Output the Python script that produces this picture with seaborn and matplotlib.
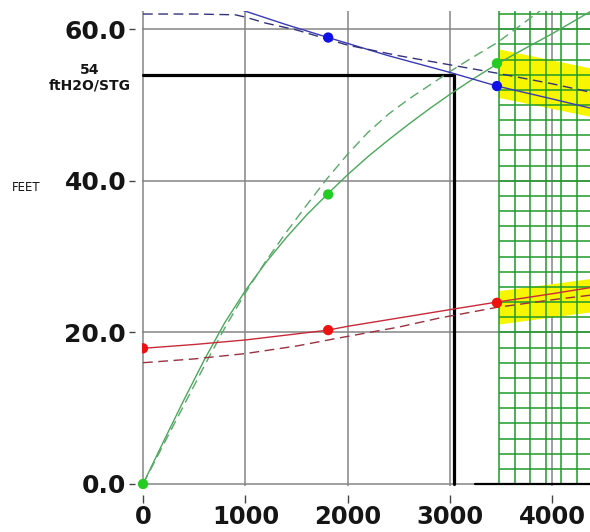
import numpy as np
import matplotlib
matplotlib.use('Agg')
import matplotlib.pyplot as plt
import seaborn as sns

sns.set_theme(style='white')

# axis range
XMAX = 4370
YMAX = 62.4

# operating point marker (head per stage and flow)
STG_HEAD = 54
STG_FLOW = 3040
BASE_X = [3245, 4370]

# green curve (solid and dashed)
GREEN_X = [0, 200, 400, 600, 800, 1000, 1200, 1400, 1600, 1800, 2000, 2200, 2400,
           2600, 2800, 3000, 3200, 3460, 3700, 4000, 4370]
GREEN_Y = [0.0, 5.6, 11.1, 16.4, 21.3, 25.5, 29.2, 32.5, 35.5, 38.2, 40.8, 43.2, 45.4,
           47.5, 49.5, 51.4, 53.2, 55.4, 57.2, 59.4, 62.3]
GREEN_DASH_X = [0, 200, 400, 600, 800, 1000, 1200, 1400, 1600, 1800, 2000, 2200, 2400,
                2600, 2800, 3000, 3200, 3460, 3700, 3900]
GREEN_DASH_Y = [0.0, 5.2, 10.4, 15.6, 20.6, 25.2, 29.4, 33.2, 36.8, 40.3, 43.5, 46.4, 48.8,
                50.8, 52.6, 54.4, 56.1, 58.2, 60.6, 62.6]

# blue curve
BLUE_X = [950, 1400, 1810, 2400, 3000, 3460, 4000, 4370]
BLUE_Y = [62.6, 60.6, 58.9, 56.5, 54.3, 52.5, 50.8, 49.6]
BLUE_DASH_X = [0, 500, 900, 1000, 1200, 1500, 2000, 2500, 3000, 3460, 4000, 4370]
BLUE_DASH_Y = [62.0, 62.0, 61.9, 61.6, 60.8, 59.9, 57.9, 56.5, 55.3, 54.2, 52.8, 51.7]

# red curve
RED_X = [0, 500, 1000, 1500, 1810, 2000, 2500, 3000, 3460, 4000, 4370]
RED_Y = [17.9, 18.4, 19.0, 19.8, 20.3, 20.8, 21.9, 23.0, 24.0, 25.1, 25.9]
RED_DASH_X = [0, 500, 1000, 1500, 1930, 2500, 2900, 3460, 4000, 4370]
RED_DASH_Y = [16.0, 16.5, 17.2, 18.2, 19.3, 20.7, 21.9, 23.3, 24.3, 24.9]

# dots
DOT_X = [0, 1810, 3460]
GREEN_DOT = [0.0, 38.2, 55.5]
RED_DOT = [17.9, 20.3, 23.9]
BLUE_DOT = [58.9, 52.5]

# yellow bands around dashed curves (right region)
BAND_X = [3475, 4370]
BLUE_BAND = [54.2, 51.7]
RED_BAND = [23.3, 24.9]
BLUE_HALF = 3.2
RED_HALF = 2.2

# fine green grid region
FINE_X0 = 3480
FINE_DX = 152
FINE_DY = 2

X_TICKS = [0, 1000, 2000, 3000, 4000]
Y_TICKS = [0, 20, 40, 60]

fig = plt.figure(figsize=(5.9, 5.32), dpi=100)
ax = fig.add_axes([141.5 / 590, (532 - 485.5) / 532, (590 - 141.5) / 590, (485.5 - 11) / 532])
ax.set_xlim(-15, XMAX)
ax.set_ylim(-0.2, YMAX)

for s in ['top', 'right']:
    ax.spines[s].set_visible(False)
ax.spines['bottom'].set_position(('outward', 7))
ax.spines['left'].set_position(('outward', 4.5))
ax.spines['bottom'].set_color('none')
ax.spines['left'].set_color('none')

ax.grid(True, color='#858585', lw=1.1, zorder=0)
ax.set_axisbelow(True)

ax.set_xticks(X_TICKS, labels=[str(v) for v in X_TICKS], fontsize=17.5, fontweight='bold', color='#151515')
ax.set_yticks(Y_TICKS, labels=['%.1f' % v for v in Y_TICKS], fontsize=18, fontweight='bold', color='#151515')
ax.tick_params(axis='x', direction='out', length=5.5, width=1, color='#444444', pad=1.5, bottom=True)
ax.tick_params(axis='y', direction='out', length=4.5, width=1, color='#444444', pad=2, left=True)

# yellow bands
bx = np.array(BAND_X)
ax.fill_between(bx, np.array(BLUE_BAND) - BLUE_HALF, np.array(BLUE_BAND) + BLUE_HALF,
                color='#f7f500', lw=0, zorder=1)
ax.fill_between(bx, np.array(RED_BAND) - RED_HALF, np.array(RED_BAND) + RED_HALF,
                color='#f7f500', lw=0, zorder=1)

# fine green grid
ax.vlines(np.arange(FINE_X0, XMAX + 1, FINE_DX), 0, YMAX + 1, color='#1f9a2a', lw=1.1, zorder=2)
ax.hlines(np.arange(0, YMAX + 0.1, FINE_DY), FINE_X0, XMAX, color='#1f9a2a', lw=1.1, zorder=2)

# stage line
ax.plot([0, STG_FLOW, STG_FLOW], [STG_HEAD, STG_HEAD, 0], color='black', lw=2.3, zorder=3,
        solid_joinstyle='miter')
ax.plot(BASE_X, [0, 0], color='black', lw=1.6, zorder=3)

# curves
dash = (0, (7, 4))
sns.lineplot(x=GREEN_X, y=GREEN_Y, ax=ax, color='#4aa85a', lw=1.0, sort=False, estimator=None, zorder=4)
sns.lineplot(x=GREEN_DASH_X, y=GREEN_DASH_Y, ax=ax, color='#5aa86a', lw=1.0, sort=False,
             estimator=None, linestyle=dash, zorder=4)
sns.lineplot(x=BLUE_X, y=BLUE_Y, ax=ax, color='#3a3ab8', lw=1.0, sort=False, estimator=None, zorder=4)
sns.lineplot(x=BLUE_DASH_X, y=BLUE_DASH_Y, ax=ax, color='#33337a', lw=1.0, sort=False,
             estimator=None, linestyle=dash, zorder=4)
sns.lineplot(x=RED_X, y=RED_Y, ax=ax, color='#c82a3a', lw=1.0, sort=False, estimator=None, zorder=4)
sns.lineplot(x=RED_DASH_X, y=RED_DASH_Y, ax=ax, color='#9a3040', lw=1.0, sort=False,
             estimator=None, linestyle=dash, zorder=4)

sns.scatterplot(x=DOT_X, y=GREEN_DOT, ax=ax, color='#22cc22', s=55, edgecolor='none', zorder=5, clip_on=False)
sns.scatterplot(x=DOT_X, y=RED_DOT, ax=ax, color='#ee1111', s=55, edgecolor='none', zorder=5)
sns.scatterplot(x=DOT_X[1:], y=BLUE_DOT, ax=ax, color='#1010e8', s=55, edgecolor='none', zorder=5)

ax.set_xlabel('')
ax.set_ylabel('')

ax.annotate('FEET', xy=(26 / 590, 40), xycoords=('figure fraction', 'data'),
            xytext=(0, -4.5), textcoords='offset points', ha='center', va='center',
            fontsize=8.5, color='#151515')
ax.annotate('%d\nftH2O/STG' % STG_HEAD, xy=(90 / 590, STG_HEAD), xycoords=('figure fraction', 'data'),
            xytext=(0, -2.2), textcoords='offset points', ha='center', va='center',
            fontsize=10, fontweight='bold', color='#151515', linespacing=1.2)

fig.savefig('out.png', dpi=100)
